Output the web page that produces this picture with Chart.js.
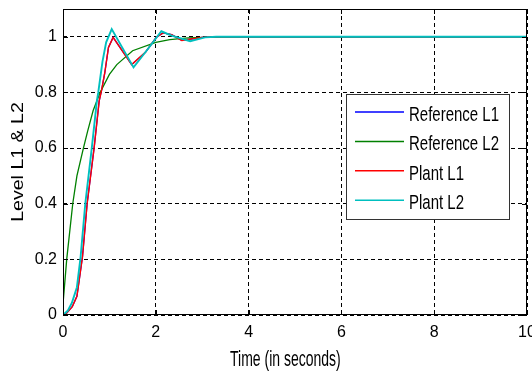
<!DOCTYPE html>
<html>
<head>
<meta charset="utf-8">
<script src="https://cdn.jsdelivr.net/npm/chart.js@4.4.0/dist/chart.umd.min.js"></script>
<style>
  html, body { margin: 0; padding: 0; background: #fff; }
  #wrap { width: 532px; height: 372px; }
</style>
</head>
<body>
<div id="wrap"><canvas id="levels"></canvas></div>
<script>
// values (time in seconds, level)
const plantL1Time = [0, 0.08, 0.2, 0.3, 0.42, 0.52, 0.67, 0.78, 0.83, 0.9, 0.98, 1.08, 1.48, 1.78, 2.02, 2.16, 2.34, 2.56, 2.8, 3.0, 3.3, 10];
const plantL1 = [0, 0.007, 0.03, 0.067, 0.21, 0.4, 0.6, 0.77, 0.807, 0.87, 0.962, 0.998, 0.9, 0.945, 1.0, 1.014, 1.008, 0.987, 0.993, 0.998, 1.0, 1.0];

const plantL2Time = [0, 0.1, 0.19, 0.3, 0.38, 0.48, 0.62, 0.73, 0.76, 0.85, 0.93, 1.05, 1.52, 1.8, 2.12, 2.34, 2.74, 3.06, 3.3, 10];
const plantL2 = [0, 0.015, 0.043, 0.1, 0.21, 0.4, 0.6, 0.77, 0.8, 0.91, 0.98, 1.028, 0.89, 0.95, 1.02, 1.004, 0.984, 0.998, 1.0, 1.0];

const refL2Time = [0, 0.005, 0.08, 0.21, 0.3, 0.44, 0.53, 0.65, 0.8, 1.0, 1.16, 1.5, 2.0, 2.3, 2.7, 3.2, 4.0, 10];
const refL2 = [0, 0.05, 0.2, 0.4, 0.5, 0.6, 0.66, 0.735, 0.8, 0.865, 0.9, 0.95, 0.98, 0.99, 0.996, 0.999, 1.0, 1.0];

// reference L1 is not visible, it sits under plant L1
const refL1Time = plantL1Time;
const refL1 = plantL1;

const xTicks = [0, 2, 4, 6, 8, 10];
const yTicks = [0, 0.2, 0.4, 0.6, 0.8, 1];

function pts(t, v) {
    return t.map((x, i) => ({ x: x, y: v[i] }));
}

// box, inward ticks, axis titles and legend drawn the matlab way
const matlabFrame = {
    id: "matlabFrame",
    afterDatasetsDraw(chart) {
        const ctx = chart.ctx;
        const a = chart.chartArea;
        const sx = chart.scales.x, sy = chart.scales.y;
        ctx.save();
        ctx.strokeStyle = "#000";
        ctx.lineWidth = 1;
        ctx.setLineDash([]);
        ctx.strokeRect(a.left + 0.5, a.top + 0.5, a.right - a.left - 1, a.bottom - a.top - 1);
        ctx.beginPath();
        xTicks.forEach(v => {
            const px = Math.round(sx.getPixelForValue(v)) + 0.5;
            ctx.moveTo(px, a.bottom); ctx.lineTo(px, a.bottom - 5);
            ctx.moveTo(px, a.top); ctx.lineTo(px, a.top + 5);
        });
        yTicks.forEach(v => {
            const py = Math.round(sy.getPixelForValue(v)) + 0.5;
            ctx.moveTo(a.left, py); ctx.lineTo(a.left + 5, py);
            ctx.moveTo(a.right, py); ctx.lineTo(a.right - 5, py);
        });
        ctx.stroke();
        ctx.restore();
    },
    afterDraw(chart) {
        const ctx = chart.ctx;
        ctx.save();
        ctx.fillStyle = "#000";
        ctx.textBaseline = "alphabetic";

        // x title
        ctx.save();
        ctx.translate(230, 366);
        ctx.scale(1, 1.6);
        ctx.font = "14px 'Liberation Sans', Arial, sans-serif";
        ctx.textAlign = "left";
        ctx.fillText("Time (in seconds)", 0, 0);
        ctx.restore();

        // y title
        ctx.save();
        ctx.translate(23, 162);
        ctx.rotate(-Math.PI / 2);
        ctx.scale(1.15, 1);
        ctx.font = "17px 'Liberation Sans', Arial, sans-serif";
        ctx.textAlign = "center";
        ctx.fillText("Level L1 & L2", 0, 0);
        ctx.restore();

        // legend
        const box = { x: 346, y: 94, w: 163, h: 125 };
        ctx.fillStyle = "#fff";
        ctx.fillRect(box.x, box.y, box.w, box.h);
        ctx.strokeStyle = "#333";
        ctx.lineWidth = 1;
        ctx.strokeRect(box.x + 0.5, box.y + 0.5, box.w, box.h);
        chart.data.datasets.forEach((ds, i) => {
            const ly = 112 + i * 29.4;
            ctx.strokeStyle = ds.borderColor;
            ctx.lineWidth = 1.5;
            ctx.beginPath();
            ctx.moveTo(355, ly);
            ctx.lineTo(404, ly);
            ctx.stroke();
            ctx.save();
            ctx.translate(409, ly + 8.7);
            ctx.scale(1, 1.34);
            ctx.fillStyle = "#000";
            ctx.font = "15px 'Liberation Sans', Arial, sans-serif";
            ctx.textAlign = "left";
            ctx.fillText(ds.label, 0, 0);
            ctx.restore();
        });
        ctx.restore();
    }
};

var ctx = document.getElementById("levels").getContext("2d");
new Chart(ctx, {
    type: "line",
    data: {
        datasets: [{
            label: "Reference L1",
            data: pts(refL1Time, refL1),
            borderColor: "#0000ff",
            borderWidth: 1.3,
            order: 4
        }, {
            label: "Reference L2",
            data: pts(refL2Time, refL2),
            borderColor: "#008000",
            borderWidth: 1.3,
            order: 3
        }, {
            label: "Plant L1",
            data: pts(plantL1Time, plantL1),
            borderColor: "#ff0000",
            borderWidth: 1.4,
            order: 2
        }, {
            label: "Plant L2",
            data: pts(plantL2Time, plantL2),
            borderColor: "#00bfbf",
            borderWidth: 1.9,
            order: 1
        }]
    },
    options: {
        responsive: true,
        maintainAspectRatio: false,
        animation: false,
        layout: { padding: { top: 9, right: 5, left: 0, bottom: 0 } },
        elements: {
            line: { tension: 0, fill: false },
            point: { radius: 0 }
        },
        plugins: {
            legend: { display: false },
            tooltip: { enabled: false }
        },
        scales: {
            x: {
                type: "linear",
                min: 0,
                max: 10,
                afterBuildTicks: s => { s.ticks = xTicks.map(v => ({ value: v })); },
                afterFit: s => { s.height = 57; s.paddingLeft = 0; s.paddingRight = 0; },
                grid: { color: "#000", lineWidth: 1, drawTicks: false },
                border: { display: false, dash: [4, 3] },
                ticks: {
                    color: "#000",
                    padding: 8,
                    maxRotation: 0,
                    font: { family: "'Liberation Sans', Arial, sans-serif", size: 16 },
                    callback: v => String(v)
                }
            },
            y: {
                type: "linear",
                min: 0,
                max: 1.1,
                afterBuildTicks: s => { s.ticks = yTicks.map(v => ({ value: v })); },
                afterFit: s => { s.width = 63; s.paddingTop = 0; s.paddingBottom = 0; },
                grid: { color: "#000", lineWidth: 1, drawTicks: false },
                border: { display: false, dash: [4, 3] },
                ticks: {
                    color: "#000",
                    padding: 6,
                    font: { family: "'Liberation Sans', Arial, sans-serif", size: 16 },
                    callback: v => String(v)
                }
            }
        }
    },
    plugins: [matlabFrame]
});
</script>
</body>
</html>
